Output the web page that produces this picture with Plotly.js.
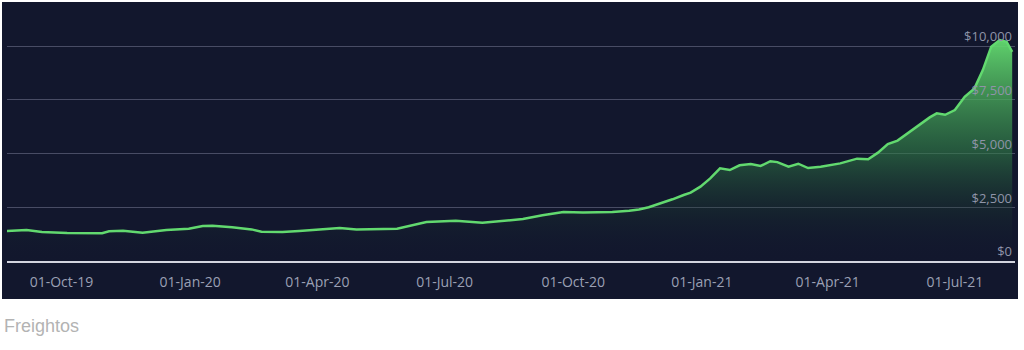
<!DOCTYPE html>
<html>
<head>
<meta charset="utf-8">
<script src="https://cdn.plot.ly/plotly-3.0.1.min.js"></script>
<style>html,body{margin:0;padding:0;background:#fff;}#chart{width:1024px;height:350px;}</style>
</head>
<body>
<div id="chart"></div>
<script>
const dates = [
'2019-08-23','2019-09-06','2019-09-17','2019-10-05','2019-10-30','2019-11-04','2019-11-14','2019-11-28',
'2019-12-15','2019-12-31','2020-01-10','2020-01-17','2020-01-31','2020-02-14','2020-02-21','2020-03-07',
'2020-03-19','2020-04-02','2020-04-17','2020-04-29','2020-05-28','2020-06-18','2020-07-09','2020-07-28',
'2020-08-11','2020-08-26','2020-09-09','2020-09-24','2020-10-08','2020-10-29','2020-11-10','2020-11-17',
'2020-11-24','2020-12-04','2020-12-11','2020-12-19','2020-12-24','2020-12-31','2021-01-07','2021-01-14',
'2021-01-21','2021-01-28','2021-02-05','2021-02-12','2021-02-19','2021-02-24','2021-03-04','2021-03-11',
'2021-03-18','2021-03-27','2021-04-10','2021-04-22','2021-04-30','2021-05-07','2021-05-14','2021-05-21',
'2021-05-30','2021-06-06','2021-06-13','2021-06-18','2021-06-24','2021-07-01','2021-07-08','2021-07-15',
'2021-07-21','2021-07-27','2021-08-02','2021-08-07','2021-08-11'
];
const prices = [
1395,1440,1350,1300,1290,1380,1410,1320,
1440,1500,1630,1640,1570,1470,1360,1350,
1395,1470,1535,1470,1500,1810,1875,1780,
1860,1950,2125,2280,2260,2280,2340,2400,
2500,2710,2870,3070,3180,3460,3845,4310,
4230,4450,4510,4420,4640,4600,4385,4525,
4325,4385,4540,4760,4730,5040,5440,5600,
6015,6370,6680,6870,6800,7020,7640,8030,
8880,9970,10280,10200,9730
];
const yTickVals = [0,2500,5000,7500,10000];
const yTickText = ['$0','$2,500','$5,000','$7,500','$10,000'];

const trace = {
  x: dates, y: prices, type: 'scatter', mode: 'lines',
  line: {color: '#62d96f', width: 2.5},
  fill: 'tozeroy',
  fillgradient: {
    type: 'vertical', start: 0, stop: 10300,
    colorscale: [[0,'rgba(18,24,48,0)'],[0.2,'rgba(28,60,48,0.25)'],[0.5,'rgba(50,130,72,0.6)'],[1,'rgba(100,220,112,0.95)']]
  },
  hoverinfo: 'skip'
};

const layout = {
  width: 1024, height: 350,
  margin: {l: 7, r: 9, t: 2, b: 89},
  paper_bgcolor: '#ffffff',
  plot_bgcolor: 'rgba(0,0,0,0)',
  showlegend: false,
  font: {family: 'Open Sans, Noto Sans, sans-serif', color: '#9ba0b4', size: 12},
  xaxis: {
    type: 'date', range: ['2019-08-23','2021-08-13'],
    tick0: '2019-10-01', dtick: 'M3', tickformat: '%d-%b-%y',
    showgrid: false, zeroline: false,
    showline: true, linecolor: '#d2d4de', linewidth: 2,
    ticks: 'outside', ticklen: 7, tickcolor: 'rgba(0,0,0,0)',
    tickfont: {size: 14, color: '#9ba0b4'}
  },
  yaxis: {
    range: [0, 12047], side: 'right',
    tickvals: yTickVals, ticktext: yTickText,
    ticklabelposition: 'inside top',
    showgrid: true, gridcolor: '#484c64', gridwidth: 1,
    zeroline: false, showline: false,
    tickfont: {size: 13, color: '#8f94a8'}
  },
  shapes: [{
    type: 'rect', xref: 'paper', yref: 'paper', layer: 'below',
    x0: -0.00496, x1: 1.00298, y0: -0.1467, y1: 1.0,
    fillcolor: '#12172d', line: {width: 0}
  }],
  annotations: [{
    text: 'Freightos', xref: 'paper', yref: 'paper',
    x: -0.005, y: -0.251, xanchor: 'left', yanchor: 'middle', showarrow: false,
    font: {family: 'Liberation Sans, Arial, sans-serif', size: 18, color: '#b3b3b3'}
  }]
};

Plotly.newPlot('chart', [trace], layout, {displayModeBar: false, staticPlot: true});
</script>
</body>
</html>
